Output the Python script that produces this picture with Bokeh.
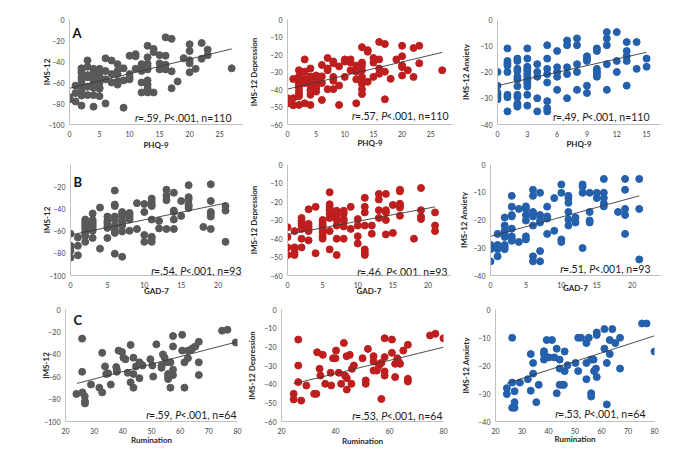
from bokeh.plotting import figure
from bokeh.layouts import column, row
from bokeh.models import Label, FixedTicker
from bokeh.embed import file_html
from bokeh.resources import INLINE

# ---------------- data ----------------
# Row A : PHQ-9
a1_x = [0,0, 1,1,1, 2,2,2,2,2,2,2,2,2,2,2, 3,3,3,3,3,3, 4,4,4,4,4,4,4,4,4,
        5,5,5,5,5,5,5,5,5, 6,6,6,6, 7,7,7, 8,8,8,8,8, 9,9,9, 10,10,10,10,
        11,11,11, 12,12,12,12,12,12, 13,13,13,13,13,13,13,13,13, 14,14,14,
        15,15,15, 16,16,16,16, 17,17,17, 18, 19, 20,20,20,20,20, 21, 22,22, 23,23, 27]
a1_y = [-74,-76, -63,-70,-78, -46.5,-49,-51,-55,-57.5,-60.3,-64,-67.5,-70.4,-72.4,-82,
        -39,-45,-53,-55,-64,-72, -47,-50,-54,-57,-60,-63,-65,-72,-83,
        -47,-49,-52,-55,-58,-60,-65,-66,-73, -37,-49,-57,-80, -39,-52,-60,
        -42.5,-49,-52,-59,-62, -46.5,-58,-84, -34.5,-52,-55,-57,
        -33,-35,-47, -42.5,-44.5,-46.5,-49,-60,-69.5,
        -25,-36,-42,-44.5,-47.5,-58,-62,-65.5,-69.5, -28,-31,-69.5,
        -34,-41.8,-47.5, -17,-34.5,-43,-47.5, -18.4,-49.4,-65.5, -59, -36.8,
        -23.6,-30,-38.8,-41.7,-50.3, -47, -22.4,-37.4, -28.7,-34, -46.5]
a1_fit_x = [0, 27]
a1_fit_y = [-65.5, -28]

a2_x = [0,0, 1,1,1, 2,2,2,2,2,2,2,2,2,2, 3,3,3,3,3, 4,4,4,4,4,4,4, 5,5,5,5,5,5,
        6,6,6,6, 7,7,7,7, 8,8,8,8,8, 9,9,9, 10,10,10, 11,11,11, 12,12,12,12,
        13,13,13,13,13,13,13,13,13, 14,14,14, 15,15,15, 16,16,16,16, 17,17,17,
        18, 19, 20,20,20,20,20, 21, 22,22, 23,23, 27]
a2_y = [-45,-48, -34,-45,-49, -29,-32.5,-34,-36.3,-37.7,-39,-41,-42.6,-43.9,-48.8,
        -22.8,-29.8,-34,-36.3,-47.9, -28,-32.5,-35,-37.7,-40.4,-43,-48.8,
        -32,-34,-35.6,-37.4,-39,-41.2, -26,-32.5,-36.3,-46, -22,-28,-29,-39.8,
        -24,-25,-32.8,-35,-39.8, -26.8,-37.7,-48.8, -22.8,-24,-32.8, -22.8,-24.6,-29,
        -26.3,-29.8,-34.2,-47.9, -15.8,-24.6,-26.3,-29,-32.8,-35.6,-36.8,-39.8,-42.6,
        -17.5,-18.4,-35.6, -22,-24.6,-32.8, -12.8,-22.8,-28,-31, -14,-29.8,-45.6,
        -33.9, -22.8, -15,-21,-26.3,-27.2,-32, -29, -16.3,-32.8, -15,-25, -29]
a2_fit_x = [0, 27]
a2_fit_y = [-39.8, -18.8]

a3_x = [0,0,0,0,0,0, 1,1,1,1,1,1,1,1, 2,2,2,2,2,2,2,2,2,2,2,2,
        3,3,3,3,3,3,3,3,3,3,3,3,3, 4,4,4,4,4, 5,5,5,5,5,5,5,5,
        6,6,6,6,6, 7,7,7,7,7, 8,8,8,8,8, 9,9,9,9,9, 10,10,10,10,10,10,
        11,11,11,11,11, 12,12,12, 13,13,13,13,13, 14,14, 15,15]
a3_y = [-20,-25.2,-27.8,-28.7,-29.6,-30.4, -11,-15.8,-16.8,-17.6,-20,-28.7,-29.6,-35,
        -14.9,-15.8,-18.8,-19.6,-21.8,-22.8,-25.4,-28.7,-29.6,-32,-32.6,-33.2,
        -11,-14.9,-18,-18.8,-19.6,-20.8,-21.8,-22.8,-23.6,-24.4,-25.6,-28.7,-32.8,
        -17,-20,-21.8,-30,-35, -9.8,-14.9,-18.8,-20.8,-24,-31.1,-33.8,-35,
        -12,-18.2,-20,-21.8,-26.8, -8,-9.8,-18.2,-20.8,-30, -7.2,-9.8,-17,-20,-26.8,
        -14,-14.9,-15.8,-25.2,-28, -11,-12,-18.8,-20,-20.8,-21.8,
        -4.8,-7.2,-9.8,-17,-26.8, -4.8,-15.8,-20, -8.6,-12,-14,-15.8,-25.2,
        -8.6,-18.8, -14.9,-18]
a3_fit_x = [0, 15]
a3_fit_y = [-25.2, -12.5]

# Row B : GAD-7
b1_x = [0,0,0,0,0, 1,1,1, 2,2,2,2,2,2,2,2,2, 3,3,3,3,3,3,3,3, 4,4, 5,5,5,5,5,5,
        6,6,6,6,6,6,6,6,6,6, 7,7,7,7,7,7,7,7, 8,8,8,8,8, 9,9, 10,10,10,10,
        11,11,11,11,11,11,11,11, 12,12, 13,13,13,13, 14,14,14,14,14, 15,15,
        16,16,16,16,16,16, 18, 19,19,19,19,19,19, 21,21,21]
b1_y = [-62.4,-73.2,-75,-77.7,-83.9, -65.7,-73.2,-81.8,
        -49.6,-51.7,-53.6,-55.4,-57.6,-60.3,-62.4,-64.3,-69.7,
        -44.2,-50,-51.7,-53.6,-55.4,-57.6,-59.7,-66.2, -38.8,-75.8,
        -46.9,-50.9,-52.8,-55.4,-57.1,-66.2,
        -23.5,-36.1,-37.4,-46.9,-49.6,-54.9,-57.6,-59.7,-61.6,-80.4,
        -42.8,-44.7,-46.9,-50.9,-52.8,-54.9,-60.3,-83.1,
        -43.6,-45.5,-47.4,-49.6,-59.7, -34.8,-58.1, -35.6,-42.8,-63.5,-69.7,
        -30.7,-33.4,-35.6,-37.4,-49.6,-65.1,-67,-69.7, -50.9,-57.6,
        -22.7,-28,-32.1,-58.1, -25.4,-41.5,-42.8,-49.6,-58.1, -32.9,-46.3,
        -18.6,-29.4,-31.3,-36.1,-37.4,-39.3, -56.2,
        -17.8,-32.9,-42.8,-44.7,-46.9,-58.1, -37.4,-41.5,-69.7]
b1_fit_x = [0, 21]
b1_fit_y = [-63.5, -34.8]

b2_x = [0,0,0,0, 1,1,1,1, 2,2,2,2,2,2,2, 3,3,3,3,3,3, 4,4, 5,5,5,5,5,5,5,5,
        6,6,6,6,6,6,6,6,6, 7,7,7,7,7,7,7, 8,8,8,8,8,8, 9,9, 10,10,10,10,
        11,11,11,11,11,11,11, 12,12, 13,13,13,13, 14,14,14,14,14, 15,15,
        16,16,16,16,16,16, 18, 19,19,19,19, 21,21,21]
b2_y = [-33.9,-39.2,-44.8,-48.9, -36,-44.8,-47.6,-48.9,
        -28.9,-30.4,-31.8,-33,-34.8,-40.1,-44.8, -24.2,-32.1,-33.5,-34.8,-36,-41,
        -22.9,-48, -30,-31.2,-32.5,-33.5,-35.3,-37,-38.8,-40.1,
        -15,-21.5,-22.9,-24.2,-25,-26.5,-28.9,-36,-45.9,
        -25,-26.5,-27.7,-30,-33,-40.1,-48.9, -25,-26.5,-29.5,-30.7,-33.5,-40.1,
        -22.9,-34.8, -29.5,-33,-38.8,-42.7, -18,-22.9,-25.9,-33,-45.9,-47.6,-48.9,
        -33,-37.4, -15.9,-18.9,-24.7,-28.9, -15.9,-24.7,-25.9,-30,-37.8, -21.9,-37,
        -13.6,-14.5,-21.2,-22.4,-23.3,-27.7, -40.1, -12.7,-24.7,-28.2,-29.5,
        -25.9,-33,-36]
b2_fit_x = [0, 21]
b2_fit_y = [-37.8, -22.9]

b3_x = [0,0,0,0, 1,1,1,1,1, 2,2,2,2,2,2,2,2, 3,3,3,3,3,3,3,3, 4,4, 5,5,5,5,5,5,
        6,6,6,6,6,6,6,6, 7,7,7,7,7,7, 8,8,8,8, 9,9, 10,10,10,10,
        11,11,11,11,11,11, 12,12, 13,13,13,13, 14,14,14,14, 15,15,
        16,16,16,16,16, 18, 19,19,19,19,19, 21,21,21]
b3_y = [-29,-29.8,-30.5,-34.9, -25,-29,-29.8,-30.5,-33.1,
        -19.1,-22,-23.9,-24.6,-26.1,-29,-29.8,-30.5,
        -11.3,-15.2,-18.2,-18.7,-23.1,-25.9,-26.8,-27.5, -16,-27.9,
        -15.1,-16,-18.2,-20.2,-25.9,-27,
        -9.1,-11.3,-17.1,-17.6,-18.7,-22,-33.1,-34.9,
        -10.2,-18.2,-20.2,-20.9,-31.2,-34.9, -15.2,-18.7,-19.5,-25,
        -12.1,-23.9, -7.2,-10.2,-27,-27.9, -11.3,-12.1,-13.8,-17.1,-19.8,-22,
        -19.1,-20.9, -7.2,-8,-10.2,-30.1, -10.2,-17.1,-20.2,-20.9, -10.2,-12.1,
        -5.2,-10.2,-12.1,-14,-15.1, -17.1, -5.2,-9.1,-16,-18.2,-25,
        -5.2,-16,-34.2]
b3_fit_x = [0, 21]
b3_fit_y = [-25.9, -11.3]

# Row C : Rumination
c1_x = [23.8,25.8,25.8,25.9,26.7,26.8,26.8,28.9,31.8,32.8,32.8,33.8,34.2,34.9,35.8,
        37.7,37.9,37.9,38.5,39.7,40.2,40.9,41.7,42.7,42.7,43.7,43.7,43.7,44.6,45.8,
        45.8,46.4,46.9,49.6,50.3,50.6,51.7,53.5,53.5,54,54.6,55.2,55.8,55.8,55.8,
        56.6,56.6,57.5,57.5,57.5,57.5,60.7,60.7,61.5,61.5,62.7,62.7,63.8,64.4,65.3,
        66.5,66.5,66.5,74.6,76.5,79.4]
c1_y = [-75.4,-26,-55.6,-74,-77.4,-82,-83.9,-67,-69.8,-74,-38.7,-50.8,-57.6,-57,-67,
        -51.4,-53.7,-55.6,-36.7,-37.9,-43,-44.4,-56.5,-31.6,-65,-43,-57.6,-69.8,-50.8,-47.2,
        -61.3,-49.2,-50,-44.4,-50,-59.9,-31.1,-50,-52,-40.1,-43,-47.2,-57.6,-59.9,-62.1,
        -47.2,-69.8,-23.7,-33,-53.7,-58.5,-22.6,-36.7,-47.2,-69.8,-43.5,-36.7,-35.9,-34.5,-33,
        -28.8,-47.2,-58.5,-18.9,-18.1,-29.4]
c1_fit_x = [24, 80]
c1_fit_y = [-66, -28.8]

c2_x = [24.5,24.5,26.2,26.2,26.2,27.3,29.2,32.1,32.9,33.2,34.1,34.4,35.3,36.2,38.2,
        38.4,39.1,40,40.2,41.2,42.1,43.1,43.5,44.1,44.2,44.2,45.3,45.9,46.1,46.8,
        50,51.2,51.2,52,54.1,54.1,54.1,55.3,56.1,56.5,57,57,58.2,58.2,58.2,
        58.2,60.9,60.9,62.1,62.1,62.9,63.5,63.9,65.1,66.8,66.8,66.8,75,77,80]
c2_y = [-45.2,-48.2,-16.1,-30,-38.9,-48.8,-40.7,-45.2,-45.2,-22.9,-31.8,-35.4,-24.3,-39.8,-33.9,
        -40.7,-26.1,-26.1,-22,-33.9,-39.8,-17.9,-35.4,-25,-36.8,-42.9,-24.3,-39.8,-31.8,-30,
        -26.1,-38,-39.8,-21.1,-25,-27.9,-32.7,-32.7,-30,-29.1,-28.6,-47.9,-15.4,-25.5,-33.2,
        -35.4,-16.1,-23.2,-36.2,-29.1,-26.1,-28.2,-29.1,-22,-18.9,-37.1,-38.6,-13.9,-13,-15.4]
c2_fit_x = [24.5, 80]
c2_fit_y = [-39.8, -20.2]

c3_x = [24.3,24.3,26.3,26.3,26.3,27.2,27.2,27.2,29.2,32.2,33.3,33.3,34.2,34.2,35.4,
        36.3,38.3,38.3,38.3,39.3,40.2,41.3,42.2,43.1,43.1,44.2,44.2,44.2,45.2,45.8,
        46.1,46.1,47.2,50.2,51.2,52.3,51.2,54.3,54.3,54.3,55.2,56.1,57,56.1,56.1,
        57.2,57.9,58.2,58.2,58.2,61.1,61.1,62,62,63.1,63.1,64.1,65.2,67,67,
        75.3,77,80]
c3_y = [-28.1,-30.2,-10.1,-26.1,-35.1,-35.1,-33.1,-29.2,-26.1,-24.9,-15.9,-29,-19.1,-22.9,-33.1,
        -26.9,-14.9,-15.9,-17.9,-10.9,-17.1,-10.9,-17.1,-14,-29.9,-17.9,-21.1,-26.9,-26.9,-26.9,
        -15,-22,-19.9,-19.1,-10.1,-10.1,-22,-12,-19.1,-24.9,-10.1,-17.9,-17.9,-29.9,-31.1,
        -22,-21.1,-8.2,-9.1,-24.1,-7,-14,-19.1,-33.9,-10.9,-15.9,-7,-12,-10.1,-21.1,
        -5,-5,-15]
c3_fit_x = [24.3, 80]
c3_fit_y = [-26.4, -9.4]

# axis ticks
ticks_y100 = [0, -20, -40, -60, -80, -100]
ticks_y100_b = [-20, -40, -60, -80, -100]
ticks_y60 = [0, -10, -20, -30, -40, -50, -60]
ticks_y40 = [0, -10, -20, -30, -40]
ticks_phq = [0, 5, 10, 15, 20, 25]
ticks_phq15 = [0, 3, 6, 9, 12, 15]
ticks_gad = [0, 5, 10, 15, 20]
ticks_rum10 = [20, 30, 40, 50, 60, 70, 80]
ticks_rum20 = [20, 40, 60, 80]

stats = {
    "a1": (".59", "110"), "a2": (".57", "110"), "a3": (".49", "110"),
    "b1": (".54", "93"), "b2": (".46", "93"), "b3": (".51", "93"),
    "c1": (".59", "64"), "c2": (".53", "64"), "c3": (".53", "64"),
}

GRAY = "#595959"
RED = "#BE1E1E"
BLUE = "#2460AC"
FONT = "Lato"

CHAR_W = {"r": 0.36, "P": 0.60, "n": 0.56, "=": 0.58, "<": 0.58, ".": 0.23,
          ",": 0.23, " ": 0.19}


def text_w(s, size):
    return sum(CHAR_W.get(ch, 0.58) for ch in s) * size


def panel(xs, ys, fx, fy, color, fig_box, frame_box, xr, yr, xticks, yticks,
          xlabel, ylabel, key, xs_off, ys_off, stat_dx, stat_dy, letter=None,
          letter_pos=None):
    fl, fr, ft, fb = fig_box
    al, ar, at, ab = frame_box
    p = figure(width=fr - fl, height=fb - ft, x_range=xr, y_range=yr,
               output_backend="svg", toolbar_location=None,
               min_border_left=al - fl, min_border_right=fr - ar,
               min_border_top=at - ft, min_border_bottom=fb - ab)
    p.outline_line_color = None
    p.grid.visible = False
    p.background_fill_color = "white"
    p.border_fill_color = "white"
    for ax, ticks, lab, off in ((p.xaxis[0], xticks, xlabel, xs_off),
                                (p.yaxis[0], yticks, ylabel, ys_off)):
        ax.ticker = FixedTicker(ticks=ticks)
        ax.axis_line_color = "#BFBFBF"
        ax.axis_line_width = 1
        ax.major_tick_in = 0
        ax.major_tick_out = 0
        ax.minor_tick_line_color = None
        ax.major_label_text_font = FONT
        ax.major_label_text_font_size = "7px"
        ax.major_label_text_color = "#404040"
        ax.axis_label = lab
        ax.axis_label_text_font = FONT
        ax.axis_label_text_font_size = "8px"
        ax.axis_label_text_font_style = "bold"
        ax.axis_label_text_color = "#262626"
        ax.axis_label_standoff = off
    p.xaxis[0].major_label_standoff = 6
    p.yaxis[0].major_label_standoff = 5

    p.scatter(xs, ys, size=7, color=color, line_color=color)
    p.line(fx, fy, line_color="#3A3A3A", line_width=0.9)

    r_txt, n_txt = stats[key]
    segs = [("r", "italic"), ("=" + r_txt + ", ", "normal"), ("P", "italic"),
            ("<.001, n=" + n_txt, "normal")]
    size = 10.5
    offset = 0.0
    for txt, style in reversed(segs):
        p.add_layout(Label(x=xr[1], y=yr[0], x_offset=stat_dx - offset,
                           y_offset=stat_dy, text=txt, text_align="right",
                           text_baseline="alphabetic", text_font=FONT,
                           text_font_style=style,
                           text_font_size=f"{size}px", text_color="#1A1A1A"))
        offset += text_w(txt, size)
    if letter:
        p.add_layout(Label(x=letter_pos[0], y=letter_pos[1], text=letter,
                           text_baseline="top", text_align="left",
                           text_font=FONT, text_font_style="bold",
                           text_font_size="13px", text_color="#111111"))
    return p


pa1 = panel(a1_x, a1_y, a1_fit_x, a1_fit_y, GRAY, (0, 246, 0, 152), (69, 242, 13, 129),
            (0, 28.8), (-100, 0), ticks_phq, ticks_y100, "PHQ-9", "IMS-12", "a1", 0, -7,
            -11, 6.5, "A", (0.5, -5))
pa2 = panel(a2_x, a2_y, a2_fit_x, a2_fit_y, RED, (246, 458, 0, 152), (277, 452, 18, 132),
            (0, 28.8), (-60, 0), ticks_phq, ticks_y60, "PHQ-9", "IMS-12 Depression", "a2", -2, 8,
            -4, 9)
pa3 = panel(a3_x, a3_y, a3_fit_x, a3_fit_y, BLUE, (458, 696, 0, 152), (491, 660, 19, 131),
            (0, 16.4), (-40, 0), ticks_phq15, ticks_y40, "PHQ-9", "IMS-12 Anxiety", "a3", -1, 6,
            -11, 8)

pb1 = panel(b1_x, b1_y, b1_fit_x, b1_fit_y, GRAY, (0, 246, 152, 298), (70, 242, 154, 278),
            (0, 23.3), (-100, 0), ticks_gad, ticks_y100_b, "GAD-7", "IMS-12", "b1", -5, -6,
            -1, 5, "B", (0.4, -8.3))
pb2 = panel(b2_x, b2_y, b2_fit_x, b2_fit_y, RED, (246, 456, 152, 298), (277, 450, 164, 278),
            (0, 23.2), (-60, 0), ticks_gad, ticks_y60, "GAD-7", "IMS-12 Depression", "b2", -5, 8,
            -3, 4)
pb3 = panel(b3_x, b3_y, b3_fit_x, b3_fit_y, BLUE, (456, 696, 152, 298), (484, 660, 160, 281),
            (0, 24), (-40, 0), ticks_gad, ticks_y40, "GAD-7", "IMS-12 Anxiety", "b3", -8, 1,
            -10, 7)

pc1 = panel(c1_x, c1_y, c1_fit_x, c1_fit_y, GRAY, (0, 244, 298, 450), (65, 237, 304, 422),
            (20, 80), (-100, 0), ticks_rum10, ticks_y100, "Rumination", "IMS-12", "c1", -2, -10,
            -1, 6.3, "C", (22.8, -2))
pc2 = panel(c2_x, c2_y, c2_fit_x, c2_fit_y, RED, (244, 458, 298, 450), (274, 443, 309, 421),
            (20, 80), (-60, 0), ticks_rum20, ticks_y60, "Rumination", "IMS-12 Depression", "c2", -1, 4,
            -1, 5.3)
pc3 = panel(c3_x, c3_y, c3_fit_x, c3_fit_y, BLUE, (458, 696, 298, 450), (489, 654, 309, 423),
            (20, 80), (-40, 0), ticks_rum10, ticks_y40, "Rumination", "IMS-12 Anxiety", "c3", -3, 4,
            -9, 7.3)

layout = column(row(pa1, pa2, pa3), row(pb1, pb2, pb3), row(pc1, pc2, pc3))

open("out.html", "w").write(file_html(layout, INLINE))
